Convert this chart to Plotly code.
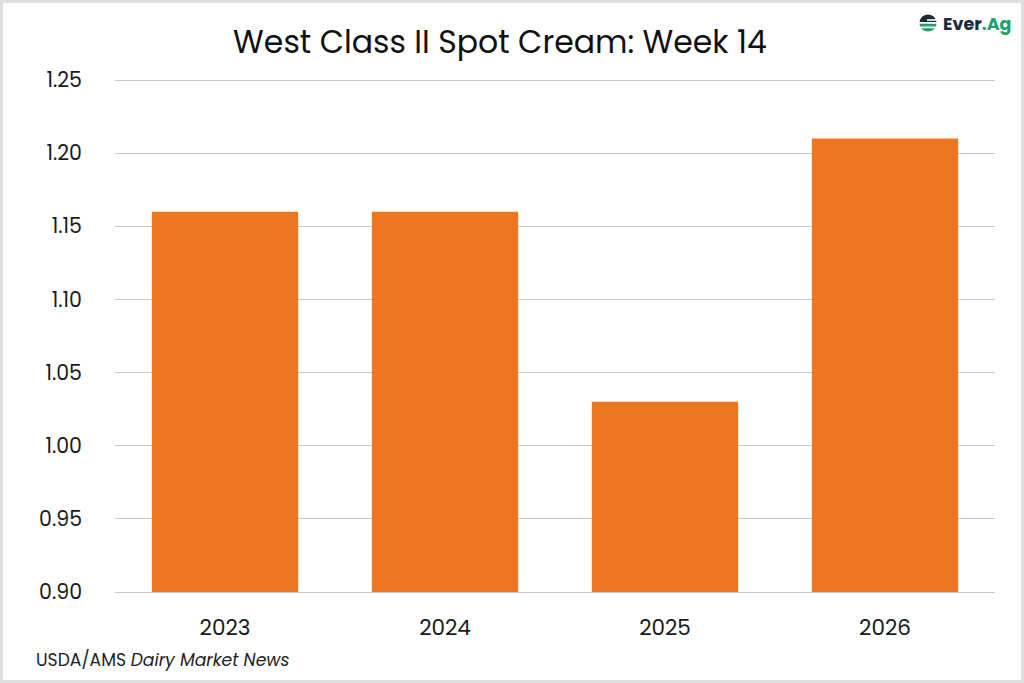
import math
import plotly.graph_objects as go

years = ["2023", "2024", "2025", "2026"]
values = [1.16, 1.16, 1.03, 1.21]
y_ticks = [0.90, 0.95, 1.00, 1.05, 1.10, 1.15, 1.20, 1.25]
y_min, y_max = 0.90, 1.25

W, H = 1024, 683
L, R = 115, 995
T0, B0 = 80, 592          # pixel rows of y_max and y_min
PAD = 3                   # extra pixels so edge gridlines are drawn
T, B = T0 - PAD, B0 + PAD
unit = (y_max - y_min) / (B0 - T0)

def px(x):
    return (x - L) / (R - L)

def py(y):
    return (B - y) / (B - T)

FONT = "Poppins, Inter, Open Sans, sans-serif"
NAVY = "#1c2b3a"
GREEN = "#22a06b"

def seg_path(cx, cy, r, ytop, ybot):
    pts = []
    n = 16
    for i in range(n + 1):
        yy = ytop + (ybot - ytop) * i / n
        dx = math.sqrt(max(r * r - (yy - cy) ** 2, 0))
        pts.append((cx + dx, yy))
    for i in range(n, -1, -1):
        yy = ytop + (ybot - ytop) * i / n
        dx = math.sqrt(max(r * r - (yy - cy) ** 2, 0))
        pts.append((cx - dx, yy))
    return "M " + " L ".join(f"{px(x):.5f},{py(y):.5f}" for x, y in pts) + " Z"

cx, cy, r = 928, 23, 8.5
logo_shapes = [
    dict(type="path", xref="paper", yref="paper", path=seg_path(cx, cy, r, cy - r, cy - 1.0),
         fillcolor=NAVY, line=dict(width=0)),
    dict(type="path", xref="paper", yref="paper", path=seg_path(cx, cy, r, cy + 0.8, cy + 3.6),
         fillcolor=GREEN, line=dict(width=0)),
    dict(type="path", xref="paper", yref="paper", path=seg_path(cx, cy, r, cy + 5.2, cy + r),
         fillcolor=GREEN, line=dict(width=0)),
    dict(type="rect", xref="paper", yref="paper", x0=px(cx - 1), x1=px(cx + r + 0.5),
         y0=py(cy - 2.2), y1=py(cy - 3.8), fillcolor="white", line=dict(width=0)),
]

fig = go.Figure(go.Bar(
    x=years, y=[v - y_min for v in values], base=y_min, customdata=values,
    marker=dict(color="#EC7723", line=dict(width=0)),
    width=0.665, hovertemplate="%{x}: %{customdata:.2f}<extra></extra>",
))

fig.update_layout(
    width=W, height=H,
    margin=dict(l=L, r=W - R, t=T, b=H - B),
    paper_bgcolor="white", plot_bgcolor="white",
    showlegend=False,
    font=dict(family=FONT, color="#1a1a1a"),
    title=dict(text="West Class II Spot Cream: Week 14", x=px(500), xanchor="center",
               xref="paper", y=1 - 42 / H, yanchor="middle",
               font=dict(size=31.5, family=FONT, color="#111111")),
    xaxis=dict(showgrid=False, showline=False, ticks="", tickfont=dict(size=21.5, color="#1a1a1a"),
               ticklabelstandoff=20 - PAD),
    yaxis=dict(range=[y_min - PAD * unit, y_max + PAD * unit], tickvals=y_ticks, tickformat=".2f",
               showgrid=True, gridcolor="#c8c8c8", gridwidth=1, zeroline=False,
               showline=False, ticks="", tickfont=dict(size=20.5, color="#1a1a1a"),
               ticklabelstandoff=32),
    shapes=[
        dict(type="rect", xref="paper", yref="paper",
             x0=px(1.5), x1=px(W - 1.5), y0=py(H - 1.5), y1=py(1.5),
             line=dict(color="#dedede", width=3), fillcolor="rgba(0,0,0,0)", layer="below"),
    ] + logo_shapes,
    annotations=[
        dict(text="USDA/AMS <i>Dairy Market News</i>", xref="paper", yref="paper",
             x=px(34), y=py(660), xanchor="left", yanchor="middle", showarrow=False,
             font=dict(size=17.2, family=FONT, color="#222")),
        dict(text=f"<b><span style='color:{NAVY}'>Ever</span><span style='color:{GREEN}'>.Ag</span></b>",
             xref="paper", yref="paper", x=px(941), y=py(24), xanchor="left", yanchor="middle",
             showarrow=False, font=dict(size=17.5, family=FONT)),
    ],
)

fig.write_html("out.html", config={"displayModeBar": False},
               post_script="document.body.style.margin='0';document.body.style.padding='0';")
